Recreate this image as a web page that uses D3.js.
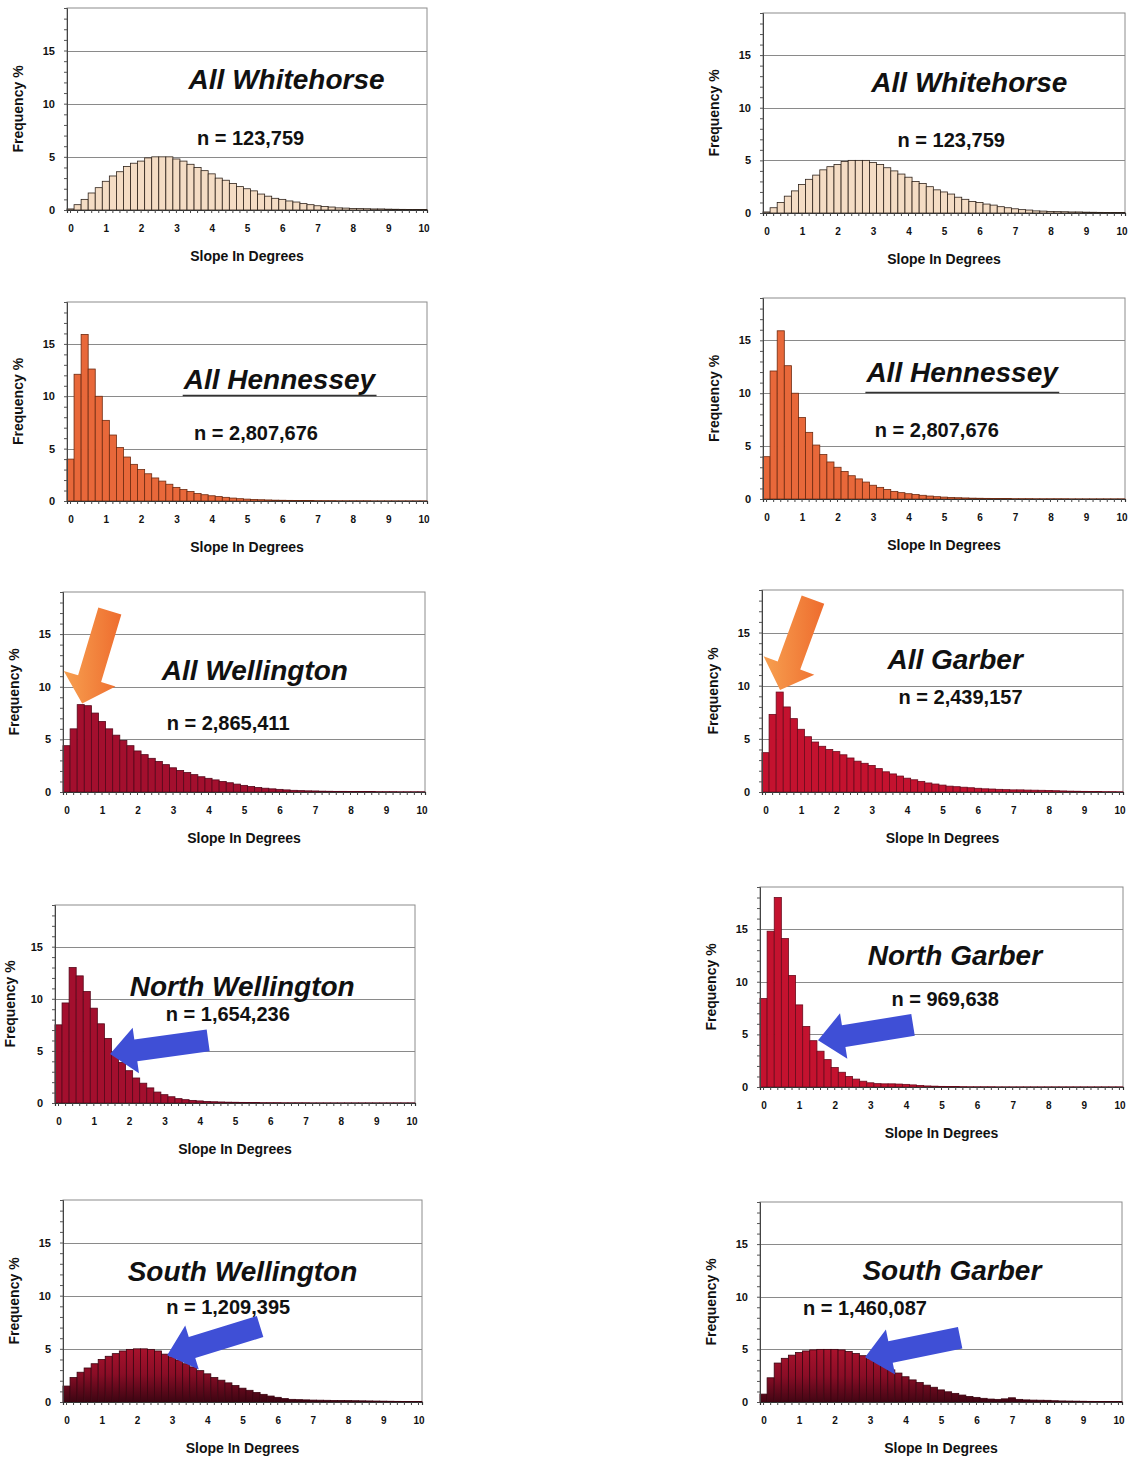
<!DOCTYPE html>
<html>
<head>
<meta charset="utf-8">
<script src="https://cdn.jsdelivr.net/npm/d3@7"></script>
<style>
  body { margin: 0; background: #fff; }
  svg { display: block; font-family: "Liberation Sans", Arial, sans-serif; }
</style>
</head>
<body>
<svg id="chart" width="1132" height="1457"></svg>
<script>
var slopeBins = [0, 0.2, 0.4, 0.6, 0.8, 1, 1.2, 1.4, 1.6, 1.8, 2, 2.2, 2.4, 2.6, 2.8, 3, 3.2, 3.4, 3.6, 3.8,
  4, 4.2, 4.4, 4.6, 4.8, 5, 5.2, 5.4, 5.6, 5.8, 6, 6.2, 6.4, 6.6, 6.8, 7, 7.2, 7.4, 7.6, 7.8,
  8, 8.2, 8.4, 8.6, 8.8, 9, 9.2, 9.4, 9.6, 9.8, 10];
var tickLabels = [0, 1, 2, 3, 4, 5, 6, 7, 8, 9, 10];
var yTickValues = [0, 5, 10, 15];
var gridValues = [5, 10, 15];

// frequency % per 0.2 degree bin
var whitehorse = [0.1, 0.5, 1.0, 1.6, 2.1, 2.7, 3.2, 3.6, 4.1, 4.4, 4.6, 4.9, 5.0, 5.0, 5.0, 4.8, 4.6, 4.3, 4.0, 3.7,
  3.4, 3.0, 2.8, 2.5, 2.2, 2.0, 1.8, 1.5, 1.3, 1.1, 1.0, 0.85, 0.75, 0.6, 0.5, 0.4, 0.32, 0.28, 0.2, 0.18,
  0.15, 0.13, 0.12, 0.1, 0.1, 0.08, 0.07, 0.06, 0.05, 0.05, 0.04];
var hennessey = [4.0, 12.1, 15.9, 12.6, 10.0, 7.7, 6.3, 5.1, 4.2, 3.5, 3.0, 2.6, 2.2, 1.9, 1.6, 1.3, 1.1, 0.9, 0.72, 0.6,
  0.5, 0.42, 0.35, 0.28, 0.22, 0.18, 0.15, 0.12, 0.1, 0.08, 0.07, 0.06, 0.05, 0.04, 0.04, 0.03, 0.03, 0.03, 0.02, 0.02,
  0.02, 0.02, 0.02, 0.01, 0.01, 0.01, 0.01, 0.01, 0.01, 0.01, 0.01];
var wellington = [4.4, 6.0, 8.3, 8.2, 7.5, 6.7, 6.0, 5.4, 4.9, 4.4, 3.9, 3.55, 3.2, 2.9, 2.6, 2.3, 2.05, 1.85, 1.65, 1.45,
  1.3, 1.15, 1.0, 0.88, 0.75, 0.63, 0.52, 0.43, 0.36, 0.3, 0.25, 0.2, 0.16, 0.13, 0.11, 0.1, 0.08, 0.07, 0.06, 0.06,
  0.05, 0.05, 0.04, 0.04, 0.03, 0.03, 0.03, 0.02, 0.02, 0.02, 0.02];
var garber = [3.7, 7.3, 9.4, 8.0, 6.9, 5.9, 5.2, 4.7, 4.3, 4.0, 3.8, 3.5, 3.2, 2.9, 2.7, 2.5, 2.2, 1.9, 1.7, 1.5,
  1.3, 1.15, 1.0, 0.85, 0.75, 0.65, 0.55, 0.5, 0.45, 0.4, 0.35, 0.3, 0.28, 0.25, 0.22, 0.2, 0.2, 0.18, 0.17, 0.16,
  0.15, 0.12, 0.1, 0.08, 0.07, 0.06, 0.05, 0.04, 0.03, 0.03, 0.02];
var northWellington = [7.5, 9.6, 13.0, 12.2, 10.7, 9.1, 7.6, 6.2, 4.8, 3.9, 3.1, 2.4, 1.9, 1.45, 1.05, 0.8, 0.6, 0.42, 0.32, 0.25,
  0.2, 0.15, 0.12, 0.1, 0.08, 0.07, 0.06, 0.05, 0.04, 0.03, 0.03, 0.03, 0.02, 0.02, 0.02, 0.02, 0.01, 0.01, 0.01, 0.01,
  0.01, 0.01, 0.01, 0.01, 0.01, 0.01, 0.01, 0.01, 0.01, 0.01, 0.01];
var northGarber = [8.4, 14.8, 18.0, 14.1, 10.6, 7.8, 5.75, 4.4, 3.4, 2.6, 1.85, 1.4, 1.0, 0.75, 0.55, 0.4, 0.32, 0.3, 0.3, 0.28,
  0.25, 0.2, 0.15, 0.1, 0.08, 0.06, 0.05, 0.04, 0.03, 0.02, 0.02, 0.02, 0.02, 0.01, 0.01, 0.01, 0.01, 0.01, 0.01, 0.01,
  0.01, 0.01, 0.01, 0.01, 0.01, 0.01, 0.01, 0.01, 0.01, 0.01, 0.01];
var southWellington = [1.5, 2.3, 2.8, 3.2, 3.6, 4.0, 4.3, 4.55, 4.8, 4.95, 5.0, 5.0, 4.95, 4.8, 4.5, 4.25, 3.95, 3.6, 3.3, 2.95,
  2.65, 2.3, 2.05, 1.8, 1.55, 1.3, 1.1, 0.9, 0.72, 0.56, 0.44, 0.32, 0.25, 0.22, 0.2, 0.18, 0.17, 0.16, 0.15, 0.14,
  0.13, 0.12, 0.11, 0.1, 0.09, 0.08, 0.07, 0.06, 0.05, 0.05, 0.04];
var southGarber = [0.75, 2.3, 3.7, 4.15, 4.45, 4.7, 4.85, 4.95, 5.0, 5.0, 5.0, 4.95, 4.8, 4.6, 4.4, 4.1, 3.8, 3.45, 3.05, 2.75,
  2.4, 2.1, 1.85, 1.6, 1.4, 1.15, 0.97, 0.82, 0.66, 0.53, 0.44, 0.35, 0.28, 0.25, 0.3, 0.4, 0.25, 0.2, 0.18, 0.17,
  0.16, 0.12, 0.1, 0.09, 0.08, 0.07, 0.06, 0.05, 0.05, 0.04, 0.04];

var barStyles = {
  peach:  { fill: '#f4dcc4', stroke: '#2e221a' },
  orange: { fill: '#e8683a', stroke: '#6e2a10' },
  maroon: { fill: '#a30f2e', stroke: '#55071a' },
  red:    { fill: '#c4122f', stroke: '#6a0a1c' },
  shaded: { fill: 'url(#southShade)', stroke: '#3a0410' }
};

// arrows are given as [degrees, frequency] for tail and tip
var panels = [
  { series: whitehorse, title: 'All Whitehorse', n: 'n = 123,759', style: 'peach',
    left: 67, right: 427, top: 8, bottom: 210, titleAt: [0.61, 12.3], nAt: [0.51, 6.8] },
  { series: whitehorse, title: 'All Whitehorse', n: 'n = 123,759', style: 'peach',
    left: 763, right: 1125, top: 13, bottom: 213, titleAt: [0.57, 12.4], nAt: [0.52, 6.9] },
  { series: hennessey, title: 'All Hennessey', n: 'n = 2,807,676', style: 'orange', underline: true,
    left: 67, right: 427, top: 302, bottom: 501, titleAt: [0.59, 11.6], nAt: [0.525, 6.5] },
  { series: hennessey, title: 'All Hennessey', n: 'n = 2,807,676', style: 'orange', underline: true,
    left: 763, right: 1125, top: 298, bottom: 499, titleAt: [0.55, 12.0], nAt: [0.48, 6.5] },
  { series: wellington, title: 'All Wellington', n: 'n = 2,865,411', style: 'maroon',
    left: 63, right: 425, top: 592, bottom: 792, titleAt: [0.53, 11.5], nAt: [0.456, 6.6],
    arrow: { kind: 'orange', tail: [1.22, 17.2], tip: [0.44, 8.4] } },
  { series: garber, title: 'All Garber', n: 'n = 2,439,157', style: 'red',
    left: 762, right: 1123, top: 590, bottom: 792, titleAt: [0.535, 12.45], nAt: [0.55, 8.9],
    arrow: { kind: 'orange', tail: [1.34, 18.1], tip: [0.41, 9.6] } },
  { series: northWellington, title: 'North Wellington', n: 'n = 1,654,236', style: 'maroon',
    left: 55, right: 415, top: 905, bottom: 1103, titleAt: [0.52, 11.2], nAt: [0.48, 8.5],
    arrow: { kind: 'blue', tail: [4.24, 6.0], tip: [1.46, 4.7] } },
  { series: northGarber, title: 'North Garber', n: 'n = 969,638', style: 'red',
    left: 760, right: 1123, top: 887, bottom: 1087, titleAt: [0.537, 12.5], nAt: [0.51, 8.4],
    arrow: { kind: 'blue', tail: [4.2, 5.9], tip: [1.53, 4.45] } },
  { series: southWellington, title: 'South Wellington', n: 'n = 1,209,395', style: 'shaded',
    left: 63, right: 422, top: 1200, bottom: 1402, titleAt: [0.5, 12.3], nAt: [0.46, 8.9],
    arrow: { kind: 'blue', tail: [5.5, 7.1], tip: [2.86, 4.4] } },
  { series: southGarber, title: 'South Garber', n: 'n = 1,460,087', style: 'shaded',
    left: 760, right: 1122, top: 1202, bottom: 1402, titleAt: [0.53, 12.45], nAt: [0.29, 8.9],
    arrow: { kind: 'blue', tail: [5.54, 6.1], tip: [2.86, 4.25] } }
];

var svg = d3.select('#chart');
var defs = svg.append('defs');

var shade = defs.append('linearGradient')
  .attr('id', 'southShade')
  .attr('gradientUnits', 'userSpaceOnUse')
  .attr('x1', 0).attr('y1', 140).attr('x2', 0).attr('y2', 202);
shade.append('stop').attr('offset', 0).attr('stop-color', '#b3142f');
shade.append('stop').attr('offset', 0.55).attr('stop-color', '#8a0d26');
shade.append('stop').attr('offset', 1).attr('stop-color', '#3c0512');

var orangeGrad = defs.append('linearGradient')
  .attr('id', 'orangeArrow')
  .attr('x1', 0).attr('y1', 0).attr('x2', 1).attr('y2', 0);
orangeGrad.append('stop').attr('offset', 0).attr('stop-color', '#f7a050');
orangeGrad.append('stop').attr('offset', 1).attr('stop-color', '#ee6c2e');

var arrowFills = { orange: 'url(#orangeArrow)', blue: '#3f4fd6' };

function arrowPoints(tail, tip, shaftWidth, headWidth, headLength) {
  var dx = tip[0] - tail[0];
  var dy = tip[1] - tail[1];
  var len = Math.sqrt(dx * dx + dy * dy);
  var ux = dx / len, uy = dy / len;
  var nx = -uy, ny = ux;
  var bx = tip[0] - ux * headLength;
  var by = tip[1] - uy * headLength;
  var s = shaftWidth / 2, h = headWidth / 2;
  return [
    [tail[0] + nx * s, tail[1] + ny * s],
    [bx + nx * s, by + ny * s],
    [bx + nx * h, by + ny * h],
    [tip[0], tip[1]],
    [bx - nx * h, by - ny * h],
    [bx - nx * s, by - ny * s],
    [tail[0] - nx * s, tail[1] - ny * s]
  ];
}

function drawPanel(p) {
  var width = p.right - p.left;
  var height = p.bottom - p.top;
  var style = barStyles[p.style];

  var x = d3.scaleBand().domain(slopeBins).range([0, width]).padding(0);
  // continuous twin of the band scale, bin centres sit on their degree value
  var xDeg = d3.scaleLinear().domain([-0.1, 10.1]).range([0, width]);
  var y = d3.scaleLinear().domain([0, 19]).range([height, 0]);

  var g = svg.append('g').attr('transform', 'translate(' + p.left + ',' + p.top + ')');

  g.append('rect')
    .attr('width', width).attr('height', height)
    .attr('fill', '#fff').attr('stroke', '#8c8c8c').attr('stroke-width', 1);

  g.append('g').selectAll('line')
    .data(gridValues)
    .enter().append('line')
    .attr('x1', 0).attr('x2', width)
    .attr('y1', function (d) { return Math.round(y(d)) + 0.5; })
    .attr('y2', function (d) { return Math.round(y(d)) + 0.5; })
    .attr('stroke', '#8a8a8a').attr('stroke-width', 1);

  g.append('g').selectAll('rect')
    .data(p.series)
    .enter().append('rect')
    .attr('x', function (d, i) { return x(slopeBins[i]); })
    .attr('y', function (d) { return y(d); })
    .attr('width', x.bandwidth())
    .attr('height', function (d) { return height - y(d); })
    .attr('fill', style.fill)
    .attr('stroke', style.stroke)
    .attr('stroke-width', 0.8);

  // minor ticks on the value axis
  g.append('g')
    .call(d3.axisLeft(y).tickValues(d3.range(0, 20, 1)).tickSize(3).tickFormat(''))
    .call(function (a) {
      a.select('.domain').attr('stroke', '#444');
      a.selectAll('.tick line').attr('stroke', '#555');
    });

  g.append('g')
    .call(d3.axisLeft(y).tickValues(yTickValues).tickSize(0).tickPadding(12))
    .call(function (a) {
      a.select('.domain').remove();
      a.selectAll('text')
        .attr('font-size', 11).attr('font-weight', 'bold').attr('fill', '#111')
        .attr('font-family', '"Liberation Sans", Arial, sans-serif');
    });

  g.append('g')
    .attr('transform', 'translate(0,' + height + ')')
    .call(d3.axisBottom(x).tickValues(slopeBins).tickSize(3).tickFormat(''))
    .call(function (a) {
      a.select('.domain').attr('stroke', '#333').attr('stroke-width', 1.2);
      a.selectAll('.tick line').attr('stroke', '#444');
    });

  g.append('g')
    .attr('transform', 'translate(0,' + height + ')')
    .call(d3.axisBottom(xDeg).tickValues(tickLabels).tickSize(0).tickPadding(15).tickFormat(d3.format('d')))
    .call(function (a) {
      a.select('.domain').remove();
      a.selectAll('text')
        .attr('font-size', 10).attr('font-weight', 'bold').attr('fill', '#111')
        .attr('font-family', '"Liberation Sans", Arial, sans-serif');
    });

  g.append('text')
    .attr('x', width / 2).attr('y', height + 46)
    .attr('text-anchor', 'middle').attr('dominant-baseline', 'central')
    .attr('font-size', 14).attr('font-weight', 'bold').attr('fill', '#111')
    .text('Slope In Degrees');

  // keep the rotated label inside the page on the narrow left panels
  var labelX = Math.max(-49, 10 - p.left);
  g.append('text')
    .attr('transform', 'translate(' + labelX + ',' + (height / 2) + ') rotate(-90)')
    .attr('text-anchor', 'middle').attr('dominant-baseline', 'central')
    .attr('font-size', 14).attr('font-weight', 'bold').attr('fill', '#111')
    .text('Frequency %');

  var title = g.append('text')
    .attr('x', width * p.titleAt[0]).attr('y', y(p.titleAt[1]))
    .attr('text-anchor', 'middle').attr('dominant-baseline', 'central')
    .attr('font-size', 28).attr('font-weight', 'bold').attr('font-style', 'italic')
    .attr('fill', '#111')
    .text(p.title);

  if (p.underline) {
    var box = title.node().getBBox();
    g.append('line')
      .attr('x1', box.x).attr('x2', box.x + box.width)
      .attr('y1', Math.round(y(10)) - 0.5).attr('y2', Math.round(y(10)) - 0.5)
      .attr('stroke', '#333').attr('stroke-width', 1.5);
  }

  g.append('text')
    .attr('x', width * p.nAt[0]).attr('y', y(p.nAt[1]))
    .attr('text-anchor', 'middle').attr('dominant-baseline', 'central')
    .attr('font-size', 20).attr('font-weight', 'bold').attr('fill', '#111')
    .text(p.n);

  if (p.arrow) {
    var a = p.arrow;
    var tail = [xDeg(a.tail[0]), y(a.tail[1])];
    var tip = [xDeg(a.tip[0]), y(a.tip[1])];
    var pts = a.kind === 'orange'
      ? arrowPoints(tail, tip, 24, 54, 26)
      : arrowPoints(tail, tip, 22, 46, 26);
    g.append('polygon')
      .attr('points', pts.map(function (q) { return q.join(','); }).join(' '))
      .attr('fill', arrowFills[a.kind]);
  }
}

panels.forEach(drawPanel);
</script>
</body>
</html>
